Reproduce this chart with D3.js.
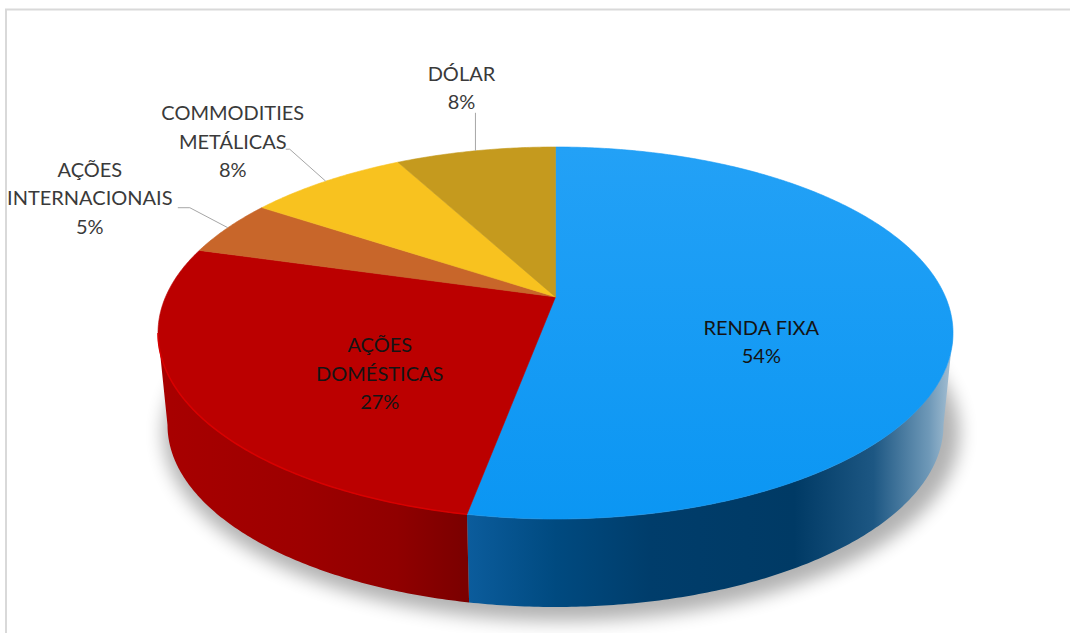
<!DOCTYPE html>
<html>
<head>
<meta charset="utf-8">
<script src="https://cdn.jsdelivr.net/npm/d3@7"></script>
<style>
  body { margin: 0; background: #fff; }
  text { font-family: Lato, "Open Sans", sans-serif; }
</style>
</head>
<body>
<div class="pieChart"></div>
<script>
// chart data
const categories = ["RENDA FIXA", "AÇÕES\nDOMÉSTICAS", "AÇÕES\nINTERNACIONAIS", "COMMODITIES\nMETÁLICAS", "DÓLAR"];
const values = [54, 27, 5, 8, 8];
const percentLabels = ["54%", "27%", "5%", "8%", "8%"];

const topColors = ["#1a9cf5", "#bb0000", "#c8662a", "#f8c21f", "#c59a1e"];

const width = 1070, height = 633;

// pie geometry (top face and bottom face ellipses, perspective tilt)
const cx = 555.5;
const topFace = { rx: 397.5, cy: 333, ry: 186 };
const botFace = { rx: 388, cy: 425, ry: 182 };
const tilt = -0.194; // moves the apex toward the back, like a perspective view

const svg = d3.select(".pieChart")
  .append("svg")
  .attr("width", width)
  .attr("height", height);

const defs = svg.append("defs");

// scales from unit circle space to screen
const topX = d3.scaleLinear().domain([-1, 1]).range([cx - topFace.rx, cx + topFace.rx]);
const topY = d3.scaleLinear().domain([-1, 1]).range([topFace.cy - topFace.ry, topFace.cy + topFace.ry]);
const botX = d3.scaleLinear().domain([-1, 1]).range([cx - botFace.rx, cx + botFace.rx]);
const botY = d3.scaleLinear().domain([-1, 1]).range([botFace.cy - botFace.ry, botFace.cy + botFace.ry]);
// shadow footprint, a little larger than the base
const shX = d3.scaleLinear().domain([-1, 1]).range([cx + 6 - botFace.rx - 10, cx + 6 + botFace.rx + 10]);
const shY = d3.scaleLinear().domain([-1, 1]).range([botFace.cy + 8 - botFace.ry - 6, botFace.cy + 8 + botFace.ry + 6]);

function project(theta, r, sx, sy) {
  const u = r * Math.sin(theta), v = -r * Math.cos(theta);
  const k = 1 + tilt * v;
  return [sx(u * Math.sqrt(1 - tilt * tilt) / k), sy((v + tilt) / k)];
}

function arcPoints(a0, a1, sx, sy) {
  const n = Math.max(2, Math.ceil((a1 - a0) / 0.01));
  return d3.range(n + 1).map(i => project(a0 + (a1 - a0) * i / n, 1, sx, sy));
}

const line = d3.line();

const pie = d3.pie().sort(null).value(d => d);
const arcs = pie(values);

// frame of the chart area
svg.append("path")
  .attr("d", `M6,${height} L6,9.5 L${width},9.5`)
  .attr("fill", "none")
  .attr("stroke", "#d9d9d9")
  .attr("stroke-width", 2);

// soft shadow under the pie
const blur = defs.append("filter").attr("id", "shadow")
  .attr("x", "-20%").attr("y", "-20%").attr("width", "140%").attr("height", "140%");
blur.append("feGaussianBlur").attr("stdDeviation", 9);

svg.append("path")
  .attr("d", line(arcPoints(0, 2 * Math.PI, shX, shY)) + "Z")
  .attr("fill", "#000")
  .attr("opacity", 0.3)
  .attr("filter", "url(#shadow)");

// side wall gradients
const sideStops = [
  [[0.39, "#0b5c9c"], [0.5, "#004a80"], [0.62, "#003d6b"], [0.8, "#003a65"], [0.9, "#1d5783"], [0.97, "#6f99b8"], [1, "#a9c2d5"]],
  [[0, "#a80000"], [0.18, "#9d0000"], [0.3, "#900000"], [0.39, "#7a0000"]],
  [[0, "#a04d1d"], [1, "#a04d1d"]],
  [[0, "#c89812"], [1, "#c89812"]],
  [[0, "#9a7812"], [1, "#9a7812"]]
];
sideStops.forEach((stops, i) => {
  const g = defs.append("linearGradient")
    .attr("id", "side" + i)
    .attr("gradientUnits", "userSpaceOnUse")
    .attr("x1", cx - topFace.rx).attr("x2", cx + topFace.rx)
    .attr("y1", 0).attr("y2", 0);
  stops.forEach(s => g.append("stop").attr("offset", s[0]).attr("stop-color", s[1]));
});

const blueTop = defs.append("linearGradient")
  .attr("id", "blueTop").attr("x1", 0).attr("x2", 0).attr("y1", 0).attr("y2", 1);
blueTop.append("stop").attr("offset", 0).attr("stop-color", "#23a1f6");
blueTop.append("stop").attr("offset", 1).attr("stop-color", "#0b96f3");

// visible front range of the side wall
const frontStart = Math.acos(tilt);
const frontEnd = 2 * Math.PI - frontStart;

arcs.forEach((d, i) => {
  const s0 = Math.max(d.startAngle, frontStart);
  const s1 = Math.min(d.endAngle, frontEnd);
  if (s1 <= s0) return;
  const pts = arcPoints(s0, s1, topX, topY).concat(arcPoints(s0, s1, botX, botY).reverse());
  svg.append("path")
    .attr("d", line(pts) + "Z")
    .attr("fill", `url(#side${i})`);
});

// top faces
arcs.forEach((d, i) => {
  const pts = [project(0, 0, topX, topY)].concat(arcPoints(d.startAngle, d.endAngle, topX, topY));
  svg.append("path")
    .attr("d", line(pts) + "Z")
    .attr("fill", i === 0 ? "url(#blueTop)" : topColors[i])
    .attr("stroke", i === 0 ? "#1599f4" : topColors[i])
    .attr("stroke-width", 0.6);
});

// bright rim on the red front edge
{
  const d = arcs[1];
  svg.append("path")
    .attr("d", line(arcPoints(Math.max(d.startAngle, frontStart), Math.min(d.endAngle, frontEnd), topX, topY)))
    .attr("fill", "none")
    .attr("stroke", "#d80000")
    .attr("stroke-width", 1.5);
}

// data labels
const fontSize = 20;
const lineHeight = 28.5;
const inside = [0, 1];
inside.forEach(i => {
  const d = arcs[i];
  const mid = (d.startAngle + d.endAngle) / 2;
  const px = topX(0.52 * Math.sin(mid));
  const py = topY(-0.52 * Math.cos(mid)) - (i === 1 ? 10 : 0);
  const lines = categories[i].split("\n").concat(percentLabels[i]);
  const t = svg.append("text")
    .attr("text-anchor", "middle")
    .attr("font-size", fontSize)
    .attr("fill", "#141414");
  lines.forEach((s, j) => {
    t.append("tspan")
      .attr("x", px)
      .attr("y", py + (j - (lines.length - 1) / 2) * lineHeight + 7)
      .text(s);
  });
});

// outside labels: leader elbow and text centre relative to the slice edge
const outsideLayout = [
  { i: 2, elbow: [[-38, -20], [-50, -20]], text: [-138, -51] },
  { i: 3, elbow: [[-36, -32], [-40, -32]], text: [-93, -61] },
  { i: 4, elbow: [[0, -38]], text: [-14, -70] }
];
outsideLayout.forEach(o => {
  const d = arcs[o.i];
  const mid = (d.startAngle + d.endAngle) / 2;
  const a = project(mid, 1, topX, topY);
  const pts = [a].concat(o.elbow.map(e => [a[0] + e[0], a[1] + e[1]]));
  svg.append("path")
    .attr("d", line(pts))
    .attr("fill", "none")
    .attr("stroke", "#a6a6a6")
    .attr("stroke-width", 1);
  const lines = categories[o.i].split("\n").concat(percentLabels[o.i]);
  const t = svg.append("text")
    .attr("text-anchor", "middle")
    .attr("font-size", fontSize)
    .attr("fill", "#3a3a3a");
  lines.forEach((s, j) => {
    t.append("tspan")
      .attr("x", a[0] + o.text[0])
      .attr("y", a[1] + o.text[1] + j * lineHeight)
      .text(s);
  });
});
</script>
</body>
</html>
